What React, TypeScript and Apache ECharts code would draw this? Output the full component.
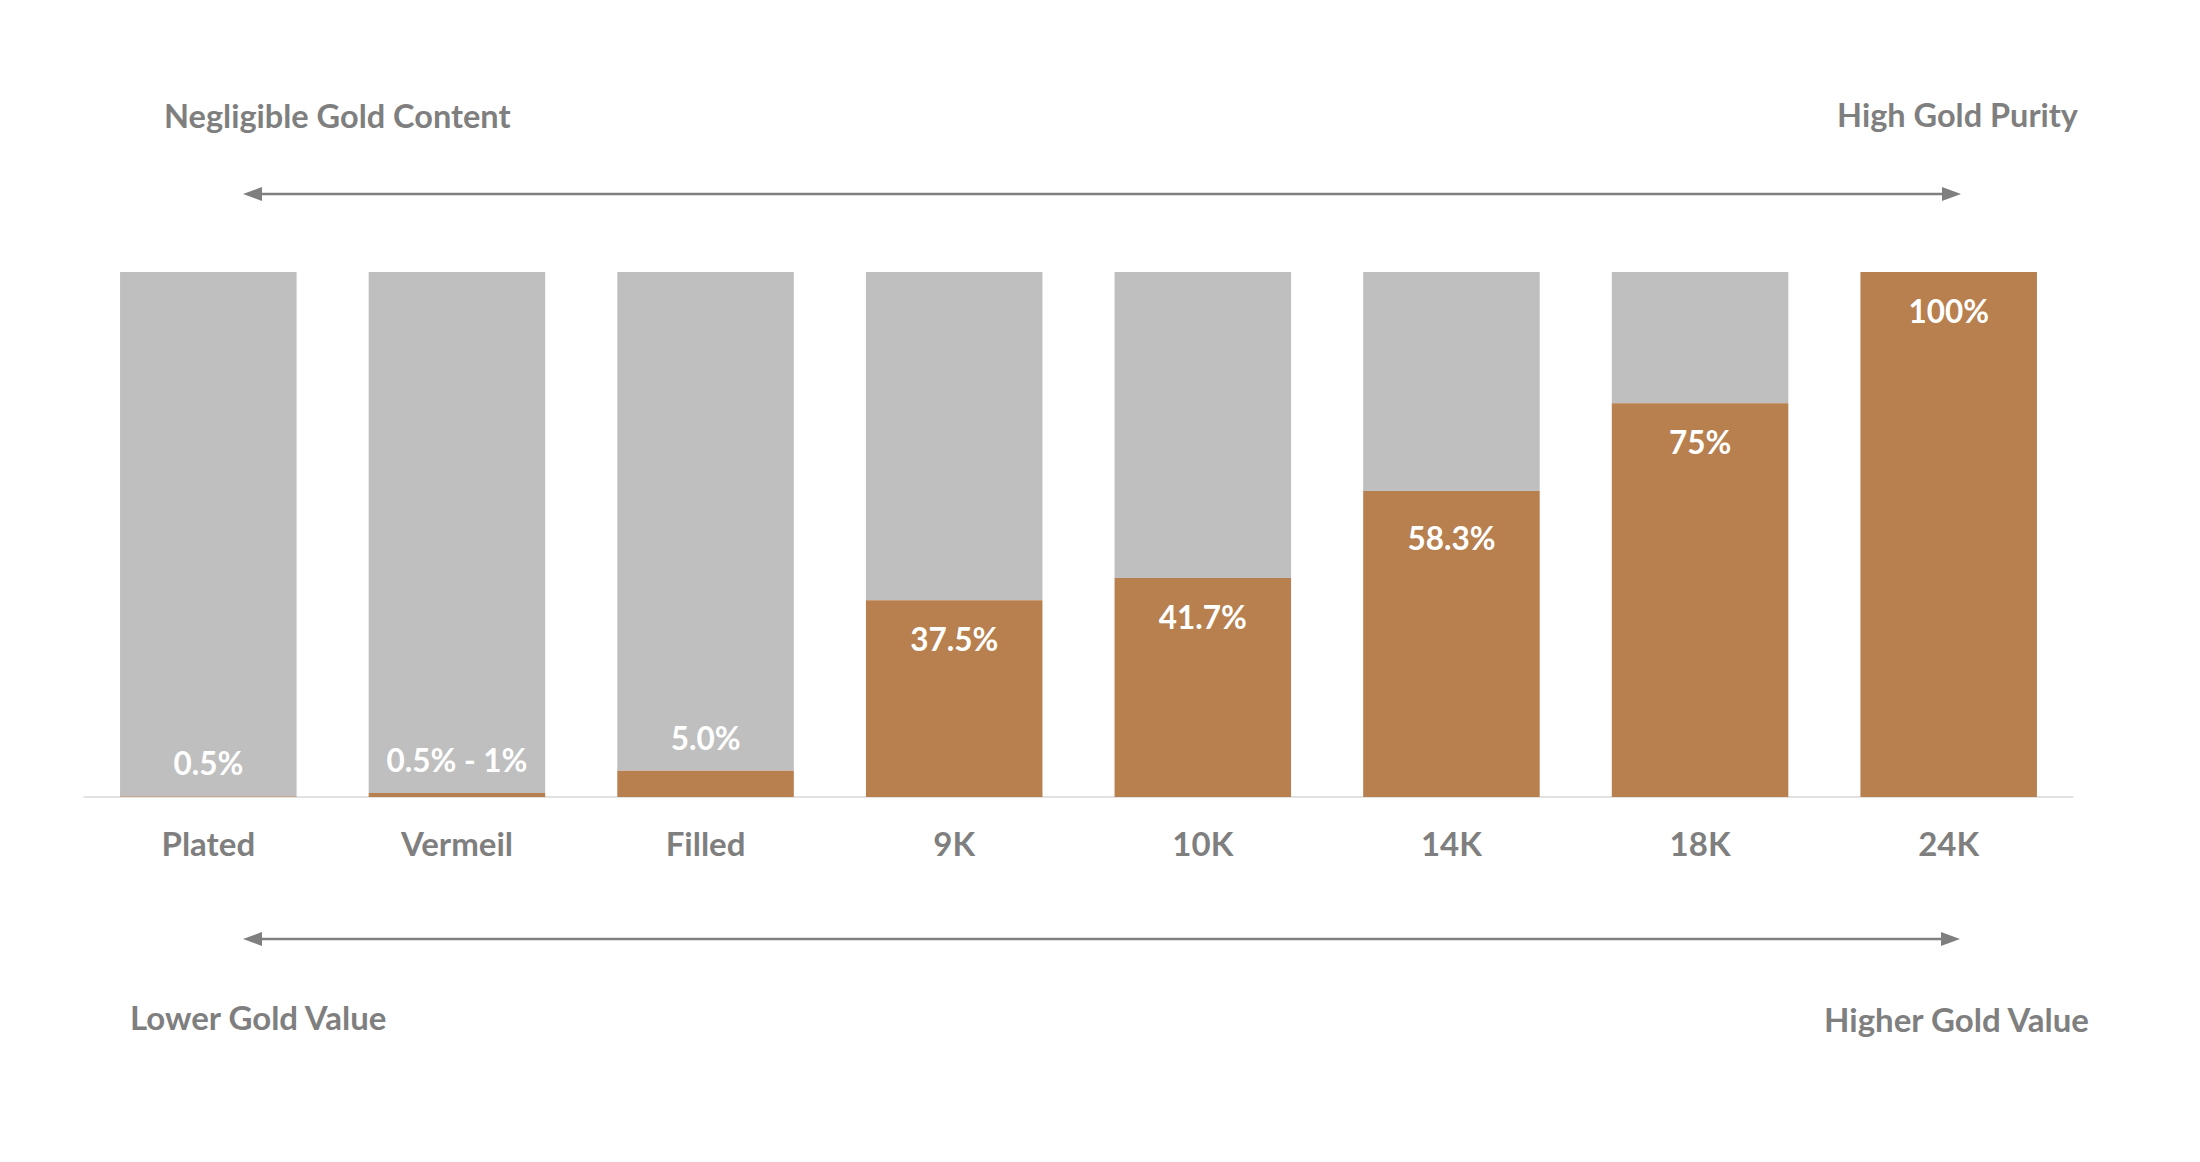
import React, { useEffect, useRef } from "react";
import * as echarts from "echarts";

const categories = ["Plated", "Vermeil", "Filled", "9K", "10K", "14K", "18K", "24K"];
const goldContent = [0.1, 0.75, 5.0, 37.5, 41.7, 58.3, 75, 100];
const goldLabels = ["0.5%", "0.5% - 1%", "5.0%", "37.5%", "41.7%", "58.3%", "75%", "100%"];
const topLeftText = "Negligible Gold Content";
const topRightText = "High Gold Purity";
const bottomLeftText = "Lower Gold Value";
const bottomRightText = "Higher Gold Value";

const GOLD = "#b7804e";
const GREY = "#bfbfbf";
const TEXT = "#7f7f7f";
const FONT = "Lato";

function arrow(y: number, x1: number, x2: number) {
  const head = 19;
  const half = 7;
  return [
    {
      type: "line",
      shape: { x1: x1 + head - 2, y1: y, x2: x2 - head + 2, y2: y },
      style: { stroke: TEXT, lineWidth: 2.5 },
    },
    {
      type: "polygon",
      shape: { points: [[x1, y], [x1 + head, y - half], [x1 + head, y + half]] },
      style: { fill: TEXT },
    },
    {
      type: "polygon",
      shape: { points: [[x2, y], [x2 - head, y - half], [x2 - head, y + half]] },
      style: { fill: TEXT },
    },
  ];
}

function note(text: string, x: number, y: number, align: string, size: number) {
  return {
    type: "text",
    x,
    y,
    style: {
      text,
      fill: TEXT,
      font: `bold ${size}px ${FONT}`,
      textAlign: align,
      textVerticalAlign: "middle",
    },
  };
}

export default function App() {
  const ref = useRef<HTMLDivElement>(null);
  useEffect(() => {
    if (!ref.current) return;
    const chart = echarts.init(ref.current, null, { renderer: "svg" });
    const remainder = goldContent.map((v) => +(100 - v).toFixed(2));
    const goldData = goldContent.map((v, i) => {
      const small = v < 10;
      return {
        value: v,
        label: small
          ? { show: true, position: "top", distance: 17 }
          : { show: true, position: "insideTop", distance: i === 5 ? 31 : 23 },
      };
    });
    chart.setOption({
      animation: false,
      backgroundColor: "#ffffff",
      grid: { left: 84, right: 127, top: 272, bottom: 365, containLabel: false },
      xAxis: {
        type: "category",
        data: categories,
        axisLine: { show: true, lineStyle: { color: "#d9d9d9", width: 1.5 } },
        axisTick: { show: false },
        axisLabel: {
          color: TEXT,
          fontFamily: FONT,
          fontWeight: "bold",
          fontSize: 33,
          margin: 29,
        },
      },
      yAxis: {
        type: "value",
        min: 0,
        max: 100,
        show: false,
        splitLine: { show: false },
      },
      series: [
        {
          name: "Gold",
          type: "bar",
          stack: "total",
          data: goldData,
          barCategoryGap: "29%",
          itemStyle: { color: GOLD },
          label: {
            show: true,
            color: "#ffffff",
            fontFamily: FONT,
            fontWeight: "bold",
            fontSize: 31.5,
            formatter: (p: any) => goldLabels[p.dataIndex],
          },
          z: 3,
        },
        {
          name: "Other",
          type: "bar",
          stack: "total",
          data: remainder,
          barCategoryGap: "29%",
          itemStyle: { color: GREY },
          z: 2,
        },
      ],
      graphic: [
        note(topLeftText, 164, 115, "left", 32.5),
        note(topRightText, 2078, 114, "right", 32.5),
        note(bottomLeftText, 130, 1017, "left", 33),
        note(bottomRightText, 2089, 1019, "right", 33),
        ...arrow(194, 243, 1961),
        ...arrow(939, 243, 1960),
      ],
    });
    return () => chart.dispose();
  }, []);
  return (
    <div
      ref={ref}
      style={{ position: "absolute", left: 0, top: 0, width: 2200, height: 1162, background: "#fff" }}
    />
  );
}
